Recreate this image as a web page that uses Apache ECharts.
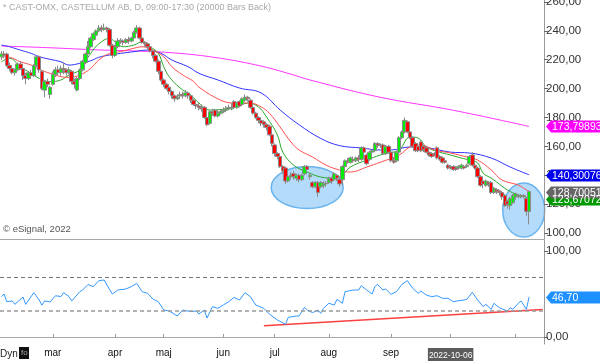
<!DOCTYPE html>
<html><head><meta charset="utf-8">
<script src="https://cdn.jsdelivr.net/npm/echarts@6/dist/echarts.min.js"></script>
<style>html,body{margin:0;padding:0;background:#fff}#c{width:600px;height:361px}</style>
</head><body><div id="c"></div>
<script>
// [open, close, low, high] per trading day
const candles = [
[222,224,220,226],[224,223,221,226],[224,216,215,225],[216,214,212,218],[214,211,210,216],
[211,213,209,214],[213,217,212,218],[217,214,213,219],[214,209,206,215],[209,207,203,211],
[207,211,206,212],[211,209,207,213],[209,216,208,217],[216,222,215,223],[222,213,211,223],
[212,200,199,213],[199,205,194,206],[205,203,201,207],[196,201,193,202],[203,210,202,212],
[210,213,208,215],[213,211,209,216],[211,214,209,216],[214,213,210,218],[213,211,209,214],
[211,213,210,215],[212,205,203,213],[205,203,200,207],[199,207,198,208],[207,213,206,214],
[213,219,212,220],[218,224,217,225],[224,229,222,233],[229,235,228,236],[234,238,233,239],
[237,240,235,241],[240,242,239,244],[242,241,239,244],[241,242,240,245],[242,241,239,243],
[241,230,229,242],[230,223,221,231],[223,229,222,230],[229,233,228,235],[233,233.5,231,235],
[233,232,230,234],[232,234,231,235],[234,233,231,236],[233,235,232,236],[235,239,234,240],
[239,242,238,244],[242,235,234,243],[235,232,231,236],[232,231,229,233],[231,229,227,232],
[229,226,225,230],[226,223,221,227],[223,219,218,224],[219,212,210,220],[212,206,205,213],
[206,203,201,207],[203,200,199,204],[201,198,196,202],[198,195,193,199],[195,193,191,196],
[193,194,192,196],[195,196,193,198],[196,195,193,198],[195,197,194,199],[197,195,193,198],
[195,192,190,196],[192,189,188,193],[189,188,186,191],[188,187,185,190],[187,186,184,189],
[187,180,179,188],[180,175,174,181],[176,184,175,185],[184,183,181,186],[185,181,180,186],
[181,183,180,185],[183,184,182,186],[184,185,183,187],[185,186,184,188],[186,187,185,189],
[186,187,185,190],[191,187,186,192],[187,190,186,191],[191,188,187,192],[189,193,188,194],
[192,194,191,196],[194,193,191,195],[192,187,186,193],[187,183,182,188],[183,180,179,184],
[180,178,176,181],[178,176,174,179],[177,175,173,178],[175,173,171,176],[174,168,167,175],
[168,162,160,169],[161,155,153,162],[155,153,151,156],[153,146,145,154],[146,143,141,147],
[145,136,134,146],[136,139,135,141],[139,140,137,142],[141,139,137,143],[138,140,136,141],
[140,137,135,141],[137,140,136,141],[141,146,140,147],[146,144,142,147],[139,140,137,142],
[135,132,131,136],[132,135,131,136],[135,128,125,136],[132,135,131,136],[133,134,131,136],
[134,134.5,132,136],[135,138,134,139],[138,136,134,139],[137,141,136,142],[140,138,136,141],
[137,134,132,138],[137,146,133,147],[146,150,145,151],[150,149,148,152],[149,152,148,153],
[151,150,149,153],[150,152,149,153],[152,151,149,154],[151,159,150,160],[159,156,155,160],
[154,148,147,155],[151,156,150,157],[156,157,155,158],[157,162,156,163],[162,161,159,163],
[161,160.5,159,162],[161,155,154,162],[155,160,154,161],[160,156,155,161],[156,150,149,157],
[150,149,148,152],[150,156,149,157],[156,166,155,167],[166,170,165,171],[170,178,169,180],
[177,170,169,178],[170,166,165,171],[166,160,159,167],[162,157,156,163],[160,157,156,161],
[163,157,156,164],[160,158,156,161],[159,156,155,160],[156,154,153,157],[155,153,152,156],
[155,154,153,156],[159,152,151,160],[153,151,150,154],[152,149,148,153],[150,149,148,151],
[147,145,144,148],[146,145,144,147],[146,144,143,147],[145,144,143,146],[145,146,144,147],
[145,147,144,148],[146,145,144,147],[146,147,145,148],[148,153,147,154],[154,147,146,156],
[147,145,144,148],[145,139,138,146],[139,133,132,140],[136,134,131,137],[133,136,132,137],
[135,134,132,136],[135,128,127,136],[128,131,127,132],[130,129,127,131],[129,128,126,130],
[128,125,123,129],[126,119,118,127],[122,120,117,123],[119,124,116,125],[121,126,120,127],
[125,127,123,128],[126,125.5,124,127],[125,126,124,127],[126,125.5,124,127],[124,115,112,125],
[115,128.7,106,129.5]
];
const slotCount = 201; // trading-day slots on the axis (last few empty)

// moving averages: [bar index, value]
const maGreen = [[0,218.5],[3,221],[7,215.2],[11,210.6],[14,207.1],[18,204.8],[22,206],[25,209.4],[29,212.9],[31,218.6],[33,224.4],[36,231],[40,234.8],[42,232.5],[45,229],[49,230.2],[52,232.5],[55,229],[58,224.4],[60,215.2],[62,208.3],[66,200.5],[70,195.5],[73,190],[77,185.2],[85,186.6],[91,190],[95,187.3],[98,180.3],[102,167.9],[104,156],[108,147],[113,142.2],[118,138.8],[123,138],[126,140.2],[129,145.7],[135,150.5],[140,154],[143,155.4],[147,157.5],[151,166.5],[154,165.8],[157,159.6],[162,156],[166,154],[170,151.9],[173,150.5],[176,148.5],[178,141.5],[181,138],[183,135.3],[187,129.8],[191,126.3],[193,125.5],[195,123.67]];
const maRed = [[0,222.1],[3,221.7],[7,218.6],[11,216.3],[14,213.3],[18,210.6],[22,208.3],[25,207.8],[29,209.4],[33,214],[36,219.8],[40,224.4],[44,225.6],[49,228],[52,229],[56,226.7],[60,222.1],[63,215.2],[67,209.5],[71,205],[73,201],[81,192],[86,190],[92,190],[96,187.3],[99,183],[103,173.4],[107,163],[110,157.5],[115,152.6],[120,147],[125,143.6],[129,142.2],[135,145.7],[140,149],[147,154],[151,159.6],[155,161],[160,157.5],[166,155.4],[172,152.6],[176,150.5],[181,143.6],[185,136.7],[191,133.2],[194,129.8],[195,128.7]];
const maBlue = [[0,230.2],[3,229],[7,226.7],[11,224.4],[14,222.1],[18,220.3],[22,218.6],[25,216.3],[29,217.5],[33,219.3],[36,221.7],[40,223.3],[44,224.4],[49,225.6],[54,226.7],[59,224.4],[63,219.8],[69,215.2],[73,210.6],[80,206],[88,200.4],[96,197],[103,185.2],[110,175],[118,165.5],[125,160.5],[133,158.9],[140,157.5],[144,157.5],[151,159.6],[158,158.9],[166,156],[173,155.4],[181,151.9],[188,145.7],[195,140.3]];
const maMagenta = [[0,229.5],[18,228.3],[36,226.8],[51,226],[66,224.4],[81,221],[96,215.6],[107,210],[114,206],[140,194],[167,185],[195,173.8]];

// RSI: [bar index, value]
const rsi = [[0,46.9],[1,50],[2,41],[4,42],[5,38],[8,46.5],[9,38],[12,51.5],[14,43],[15,37],[16,42],[18,40.7],[20,48],[22,47],[23,51.5],[25,47],[26,42],[29,52.7],[30,54.6],[32,61],[34,58.5],[36,65.5],[38,66.3],[39,60.5],[41,50],[43,54.6],[46,55.8],[48,58.5],[50,62.4],[52,52.7],[54,50.8],[56,44.2],[58,41],[60,31.4],[62,30.2],[65,24.4],[67,31.4],[70,29.5],[72,30.2],[73,26.7],[75,31.4],[76,22],[78,35.3],[80,33.3],[82,37.2],[84,41],[86,46],[88,43],[90,51.5],[92,47],[94,37.2],[97,33.3],[99,26.7],[102,19.8],[105,14.7],[106,22.9],[109,24.4],[110,24.4],[112,34.5],[113,31.4],[115,28.3],[117,31.4],[118,27.5],[119,33.3],[121,39.2],[123,37.2],[124,43.8],[126,39.2],[127,52.7],[130,54.6],[132,54.6],[133,59.7],[135,54.6],[137,50],[138,58.5],[139,61.2],[141,54.6],[142,55.8],[144,49.6],[146,52.7],[148,61.2],[150,65.5],[152,56.6],[154,50.8],[155,53.5],[157,48.8],[159,46.9],[161,48],[163,45],[165,45],[167,41],[169,42.2],[171,43],[172,43.8],[174,52],[176,43],[178,35.3],[179,38],[181,32.2],[182,39.2],[184,34],[185,32.6],[187,30.2],[188,34],[189,32.2],[191,39.2],[192,41.9],[194,32.2],[195,46.7]];
const rsiTrend = [[97,13.1],[200,32.0]];
const rsiLevels = [70, 30];

// axis labels
const monthIdx = [19,42,60,82,101,121,144,166];
const monthNames = ['mar','apr','maj','jun','jul','aug','sep','2022-10-06'];
const extraTickIdx = [190];
const priceTicks = [100,120,140,160,180,200,220,240,260];
const rsiTicks = [0,100];

// last-value tags
const lastMagenta = 173.798934, lastBlue = 140.300766, lastRed = 128.700514, lastGreen = 123.670725, lastRsi = 46.70;

// annotation ellipses [bar index, price]
const circle1 = [113, 131.5], circle2 = [193, 115.9];

const titleText = '* CAST-OMX, CASTELLUM AB, D, 09:00-17:30 (20000 Bars Back)';

const cats = Array.from({length: slotCount}, (_, i) => String(i));
const fmt2 = v => v.toFixed(2).replace('.', ',');
const fmt6 = v => v.toFixed(6).replace('.', ',');

function maSeries(data, color) {
  return {type: 'line', xAxisIndex: 0, yAxisIndex: 0, data, showSymbol: false, smooth: 0.4,
    lineStyle: {color, width: 1}, z: 1};
}

const chart = echarts.init(document.getElementById('c'), null, {renderer: 'canvas'});
const axisFont = {fontFamily: 'Liberation Sans, Arial', fontSize: 11.5, color: '#333'};
chart.setOption({
  animation: false,
  backgroundColor: '#fff',
  grid: [
    {left: 0, top: 0, width: 544, height: 239, outerBoundsMode: 'none'},
    {left: 0, top: 240, width: 544, height: 104, outerBoundsMode: 'none'}
  ],
  xAxis: [
    {type: 'category', gridIndex: 0, data: cats, boundaryGap: true,
      axisLine: {lineStyle: {color: '#aaa'}}, axisTick: {show: false}, axisLabel: {show: false}, splitLine: {show: false}},
    {type: 'category', gridIndex: 1, data: cats, boundaryGap: true,
      axisLine: {lineStyle: {color: '#aaa'}},
      axisTick: {show: true, inside: true, length: 3, alignWithLabel: true, lineStyle: {color: '#999'},
        interval: (i) => monthIdx.includes(i) || extraTickIdx.includes(i)},
      axisLabel: {show: true, interval: (i) => monthIdx.includes(i), margin: 4,
        fontFamily: 'Liberation Sans, Arial', fontSize: 10, color: '#111',
        formatter: (v, i) => { const j = monthIdx.indexOf(i); if (j < 0) return ''; return j === monthIdx.length - 1 ? '{box|' + monthNames[j] + '}' : monthNames[j]; },
        rich: {box: {backgroundColor: '#5c5c5c', color: '#fff', fontSize: 8.5, padding: [3, 1, 2, 1], fontFamily: 'Liberation Sans, Arial'}}},
      splitLine: {show: false}}
  ],
  yAxis: [
    {type: 'value', gridIndex: 0, position: 'right', min: 95.844, max: 261.385, scale: true,
      axisLine: {show: true, lineStyle: {color: '#999'}}, splitLine: {show: false},
      axisTick: {show: true, length: 4, lineStyle: {color: '#666'}, customValues: priceTicks},
      axisLabel: Object.assign({margin: 2, formatter: fmt2, customValues: priceTicks}, axisFont)},
    {type: 'value', gridIndex: 1, position: 'right', min: -8.14, max: 112.79,
      axisLine: {show: true, lineStyle: {color: '#999'}}, splitLine: {show: false},
      axisTick: {show: true, length: 4, lineStyle: {color: '#666'}, customValues: rsiTicks},
      axisLabel: Object.assign({margin: 2, formatter: fmt2, customValues: rsiTicks}, axisFont)}
  ],
  series: [
    maSeries(maMagenta, '#ff33ff'),
    maSeries(maBlue, '#3333ff'),
    maSeries(maGreen, '#2ca82c'),
    maSeries(maRed, '#ff5050'),
    {type: 'candlestick', xAxisIndex: 0, yAxisIndex: 0, data: candles, barWidth: 4, z: 3,
      itemStyle: {color: '#00ee00', color0: '#ff0000', borderColor: '#8a8a8a', borderColor0: '#8a8a8a', borderWidth: 1}},
    {type: 'line', xAxisIndex: 1, yAxisIndex: 1, data: rsi, showSymbol: false, smooth: false,
      lineStyle: {color: '#3399ff', width: 1}, z: 3,
      markLine: {silent: true, symbol: ['none', 'none'], animation: false, label: {show: false},
        data: [
          {yAxis: rsiLevels[0], lineStyle: {color: '#777', type: [4, 3], width: 1}},
          {yAxis: rsiLevels[1], lineStyle: {color: '#999', type: [4, 3], width: 1.5}}
        ]}},
    {type: 'line', xAxisIndex: 1, yAxisIndex: 1, data: rsiTrend, showSymbol: false,
      lineStyle: {color: '#ff4040', width: 1.5}, z: 2}
  ]
});

const p1 = chart.convertToPixel({xAxisIndex: 0, yAxisIndex: 0}, circle1);
const p2 = chart.convertToPixel({xAxisIndex: 0, yAxisIndex: 0}, circle2);
const axisX = 544;
function tagEls(yAxisIndex, value, text, bg) {
  const y = Math.round(chart.convertToPixel({yAxisIndex}, value)) + 0.5;
  return [
    {type: 'polygon', z: 20, shape: {points: [[axisX + 2, y], [axisX + 7, y - 6], [axisX + 7, y + 6]]}, style: {fill: bg}},
    {type: 'rect', z: 20, shape: {x: axisX + 7, y: y - 6, width: 60, height: 12}, style: {fill: bg}},
    {type: 'text', z: 21, x: axisX + 8, y: y + 0.5, style: {text, fill: '#fff', font: '10.5px "Liberation Sans", Arial', verticalAlign: 'middle'}}
  ];
}
chart.setOption({
  graphic: [
    {type: 'ellipse', z: 0, shape: {cx: p1[0], cy: p1[1], rx: 36, ry: 21},
      style: {fill: 'rgba(130,195,245,0.6)', stroke: '#6ab4ee', lineWidth: 1.5}},
    {type: 'ellipse', z: 0, shape: {cx: p2[0], cy: p2[1], rx: 21, ry: 27},
      style: {fill: 'rgba(130,195,245,0.6)', stroke: '#6ab4ee', lineWidth: 1.5}},
    {type: 'text', left: 3, top: 3, z: 10, style: {text: titleText, fill: '#a8a8a8', font: '9px "Liberation Sans", Arial'}},
    {type: 'text', left: 3, top: 224, z: 10, style: {text: '\u00a9 eSignal, 2022', fill: '#555', font: '9.5px "Liberation Sans", Arial'}},
    {type: 'text', left: 0, top: 349, z: 10, style: {text: 'Dyn', fill: '#222', font: '10px "Liberation Sans", Arial'}},
    {type: 'rect', left: 19, top: 347, z: 10, shape: {width: 10, height: 12}, style: {fill: '#111'}},
    {type: 'text', left: 21, top: 349, z: 11, style: {text: 'fo', fill: '#aaa', font: '8px "Liberation Sans", Arial'}}
  ].concat(
    tagEls(0, lastMagenta, fmt6(lastMagenta), '#ff00ff'),
    tagEls(0, lastBlue, fmt6(lastBlue), '#0000ee'),
    tagEls(0, lastGreen, fmt6(lastGreen), '#009a00'),
    tagEls(0, lastRed, fmt6(lastRed), '#666666'),
    tagEls(1, lastRsi, fmt2(lastRsi), '#1e90ff')
  )
});
</script></body></html>
